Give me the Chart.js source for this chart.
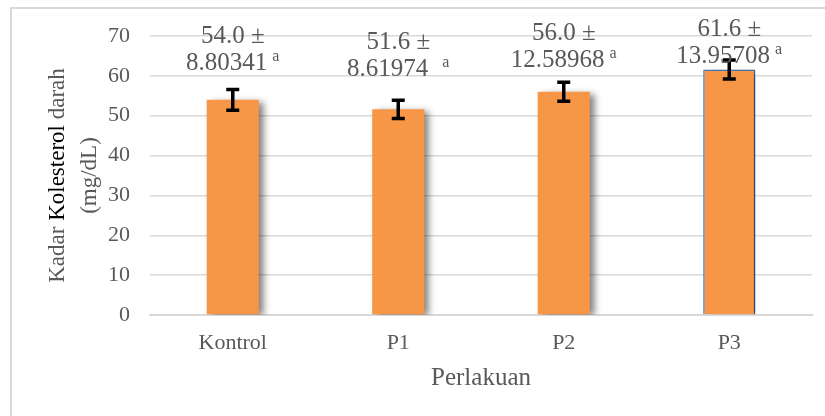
<!DOCTYPE html>
<html>
<head>
<meta charset="utf-8">
<script src="https://cdn.jsdelivr.net/npm/chart.js@4.4.0/dist/chart.umd.min.js"></script>
<style>
  body { margin: 0; background: #fff; overflow: hidden; }
  #wrap { position: relative; width: 825px; height: 416px; }
  #frame { position: absolute; left: 10px; top: 7px; width: 900px; height: 500px; border: 2px solid #d9d9d9; }
  canvas { position: absolute; left: 0; top: 0; }
</style>
</head>
<body>
<div id="wrap">
  <div id="frame"></div>
  <canvas id="chart" width="825" height="416"></canvas>
</div>
<script>
// data
var categories = ["Kontrol", "P1", "P2", "P3"];
var means = [54.0, 51.6, 56.0, 61.6];
var sdText = ["8.80341", "8.61974", "12.58968", "13.95708"];
var letters = ["a", "a", "a", "a"];
var errors = [2.6, 2.3, 2.4, 2.4];//error bar half length
var yTicks = [0, 10, 20, 30, 40, 50, 60, 70];

//how far above the bar top the second label line sits (px)
var labelLift = [36, 40, 31, 13];
var supGap = [5, 14, 5, 5];

var grey = "#595959";
var serif = "'Liberation Serif', 'Times New Roman', serif";

//shadow behind the bars
var barShadow = {
    id: 'barShadow',
    beforeDatasetsDraw: function (chart) {
        var ctx = chart.ctx;
        ctx.save();
        ctx.shadowColor = 'rgba(0,0,0,0.5)';
        ctx.shadowBlur = 7;
        ctx.shadowOffsetX = 5;
        ctx.shadowOffsetY = 2;
    },
    afterDatasetsDraw: function (chart) {
        chart.ctx.restore();
    }
};

//error bars and value labels
var extras = {
    id: 'extras',
    afterDatasetsDraw: function (chart) {
        var ctx = chart.ctx;
        var y = chart.scales.y;
        var meta = chart.getDatasetMeta(0);
        ctx.save();
        for (var i = 0; i < means.length; i++) {
            var x = meta.data[i].x;
            var top = y.getPixelForValue(means[i] + errors[i]);
            var bot = y.getPixelForValue(means[i] - errors[i]);
            ctx.strokeStyle = '#000';
            ctx.lineWidth = 3.5;
            ctx.beginPath();
            ctx.moveTo(x, top); ctx.lineTo(x, bot);
            ctx.moveTo(x - 6.5, top); ctx.lineTo(x + 6.5, top);
            ctx.moveTo(x - 6.5, bot); ctx.lineTo(x + 6.5, bot);
            ctx.stroke();

            //labels
            var barTop = y.getPixelForValue(means[i]);
            var l2 = barTop - labelLift[i];
            var l1 = l2 - 27;
            ctx.fillStyle = grey;
            ctx.textBaseline = 'middle';
            ctx.textAlign = 'center';
            ctx.font = '25px ' + serif;
            ctx.fillText(means[i].toFixed(1) + ' \u00b1', x, l1);
            var w = ctx.measureText(sdText[i]).width;
            ctx.font = '16px ' + serif;
            var sw = ctx.measureText(letters[i]).width;
            var total = w + supGap[i] + sw;
            var start = x - total / 2;
            ctx.textAlign = 'left';
            ctx.font = '25px ' + serif;
            ctx.fillText(sdText[i], start, l2);
            ctx.font = '16px ' + serif;
            ctx.fillText(letters[i], start + w + supGap[i], l2 - 7);
        }
        ctx.restore();
    }
};

//axis titles
var titles = {
    id: 'titles',
    afterDraw: function (chart) {
        var ctx = chart.ctx;
        var area = chart.chartArea;
        ctx.save();
        ctx.textBaseline = 'middle';
        ctx.font = '25px ' + serif;
        ctx.fillStyle = grey;
        ctx.textAlign = 'center';
        ctx.fillText('Perlakuan', (area.left + area.right) / 2, 378);

        //y title, rotated, with "Kolesterol" in black
        var cy = (area.top + area.bottom) / 2;
        ctx.translate(58, cy);
        ctx.rotate(-Math.PI / 2);
        var parts = [["Kadar ", grey], ["Kolesterol", '#000'], [" darah", grey]];
        var total = 0;
        ctx.font = '23px ' + serif;
        parts.forEach(function (p) { total += ctx.measureText(p[0]).width; });
        var px = -total / 2;
        ctx.textAlign = 'left';
        parts.forEach(function (p) {
            ctx.fillStyle = p[1];
            ctx.fillText(p[0], px, 0);
            px += ctx.measureText(p[0]).width;
        });
        ctx.textAlign = 'center';
        ctx.fillStyle = grey;
        ctx.fillText('(mg/dL)', 0, 32);
        ctx.restore();
    }
};

var ctx = document.getElementById('chart').getContext('2d');
var chart = new Chart(ctx, {
    type: 'bar',
    data: {
        labels: categories,
        datasets: [{
            data: means,
            backgroundColor: '#F79646',
            borderColor: ['#F79646', '#F79646', '#F79646', '#4a7ebb'],
            borderWidth: [0, 0, 0, 1.5],
            barPercentage: 0.63,
            categoryPercentage: 0.5
        }]
    },
    options: {
        responsive: false,
        animation: false,
        devicePixelRatio: 1,
        layout: { padding: { left: 0, right: 13, top: 36, bottom: 0 } },
        plugins: { legend: { display: false }, tooltip: { enabled: false } },
        scales: {
            x: {
                grid: { display: false, drawTicks: false },
                border: { color: '#d9d9d9', width: 2 },
                ticks: { color: grey, font: { family: serif, size: 22 }, padding: 15 },
                afterFit: function (scale) { scale.height = 101; }
            },
            y: {
                min: 0,
                max: 70,
                afterBuildTicks: function (scale) {
                    scale.ticks = yTicks.map(function (v) { return { value: v }; });
                },
                grid: { color: '#d9d9d9', lineWidth: 1.5, drawTicks: false },
                border: { display: false },
                ticks: { color: grey, font: { family: serif, size: 22 }, padding: 20 },
                afterFit: function (scale) { scale.width = 150; }
            }
        }
    },
    plugins: [barShadow, extras, titles]
});
</script>
</body>
</html>
